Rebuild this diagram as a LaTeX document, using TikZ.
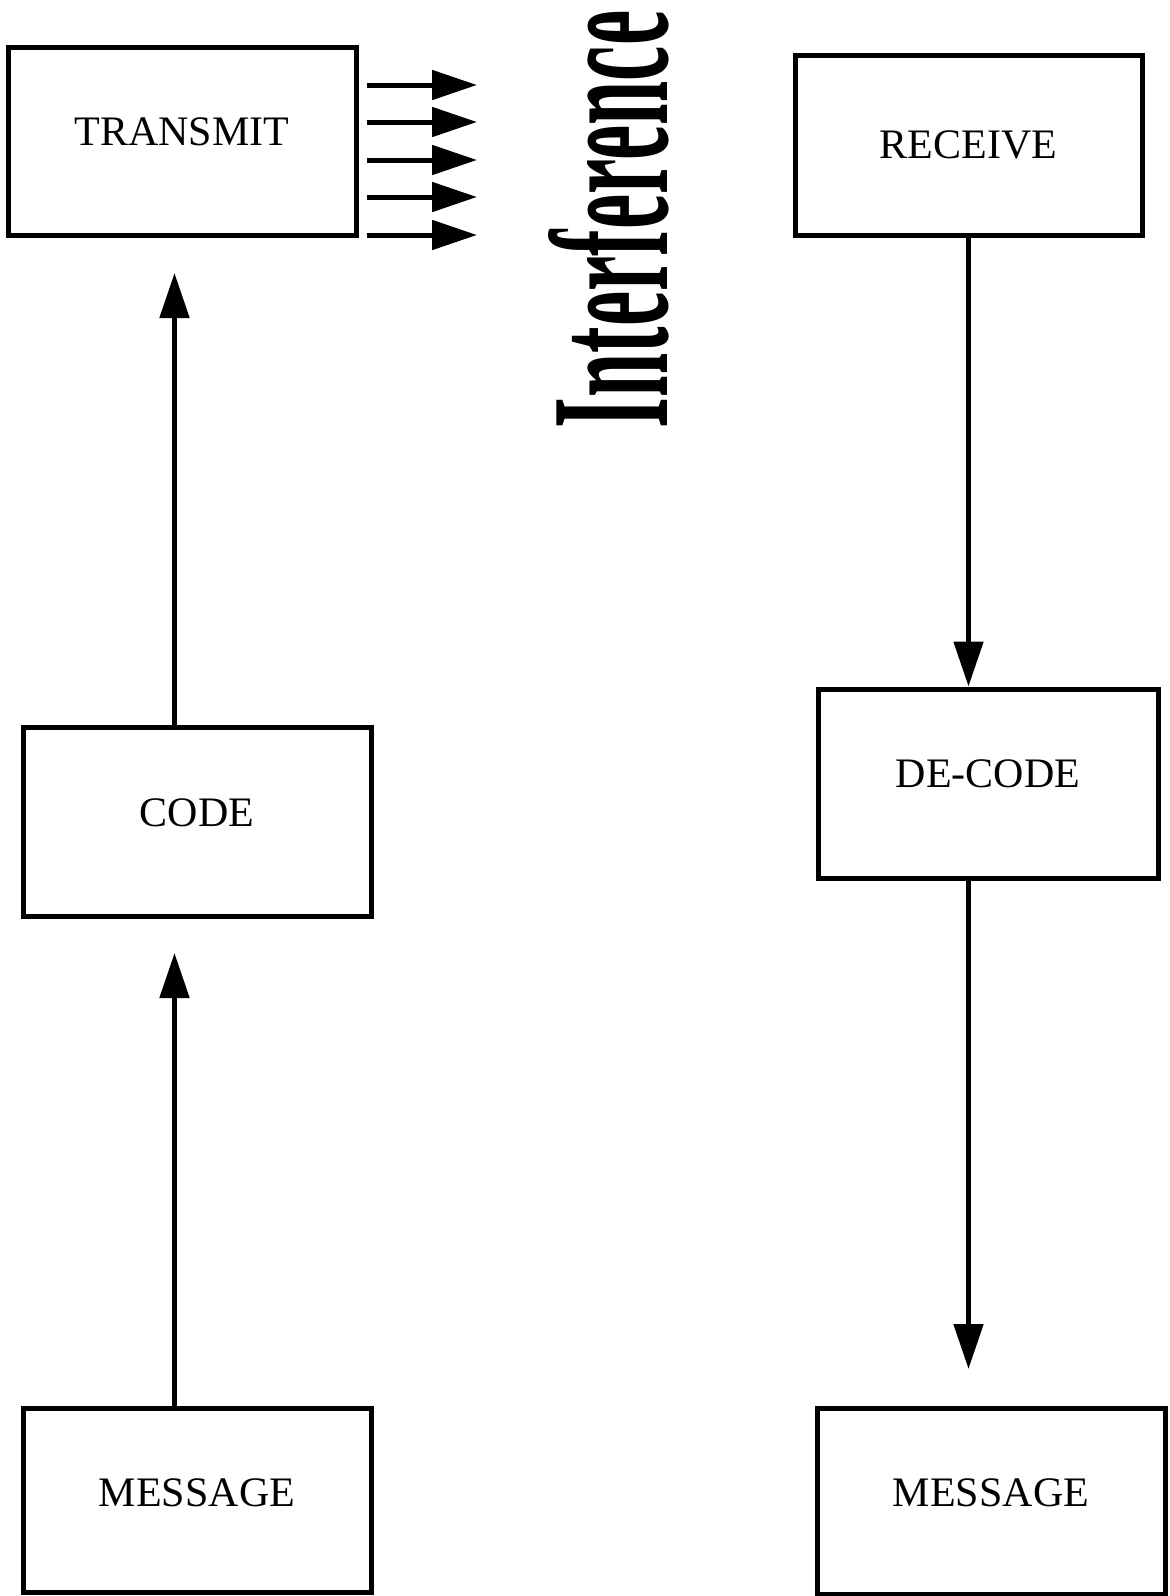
\documentclass[tikz,border=0pt]{standalone}
\usepackage{fontspec}
\usepackage{graphicx}
\setmainfont{Liberation Serif}
\usetikzlibrary{arrows.meta}
\begin{document}
\begin{tikzpicture}[x=0.5pt,y=-0.5pt,
  box/.style={draw, line width=2.5pt, rectangle, inner sep=0pt,
    font=\fontsize{21pt}{21pt}\selectfont, text height=13.8pt, text depth=9.5pt},
  arr/.style={line width=2.5pt, -{Triangle[length=22.5pt,width=14.5pt]}}]
\useasboundingbox (0,0) rectangle (1169,1596);
\node[box, minimum width=174pt, minimum height=94pt] (transmit) at (182,141) {TRANSMIT};
\node[box, minimum width=173.5pt, minimum height=90pt, text depth=0pt] (receive) at (968.5,145) {RECEIVE};
\node[box, minimum width=174pt, minimum height=94.25pt] (code) at (197,821.75) {CODE};
\node[box, minimum width=170pt, minimum height=94.5pt] (decode) at (988,783.5) {DE-CODE};
\node[box, minimum width=174pt, minimum height=92pt, text depth=7pt] (msgL) at (197,1500) {MESSAGE};
\node[box, minimum width=174pt, minimum height=93pt, text depth=8pt] (msgR) at (991,1501) {MESSAGE};
\coordinate (tipA) at (174.5,953);
\coordinate (tipB) at (174.5,273);
\coordinate (colR) at (968.5,0);
\coordinate (tipC) at (968.5,1369);
\draw[arr] (msgL.north -| tipA) -- (tipA);
\draw[arr] (code.north -| tipB) -- (tipB);
\draw[arr] (receive.south -| colR) -- (decode.north -| colR);
\draw[arr] (decode.south -| tipC) -- (tipC);
\coordinate (istart) at ([xshift=4pt]transmit.east);
\foreach \yy [count=\i] in {85,122,160,197,235} {
  \coordinate (i\i) at (477,\yy);
  \draw[arr] (istart |- i\i) -- (i\i);
}
\node[rotate=90, anchor=base west, inner sep=0pt] (interf) at (667,428.5)
  {\scalebox{0.47}[1]{\fontsize{84.5pt}{84.5pt}\selectfont\bfseries Interference}};
\end{tikzpicture}
\end{document}
